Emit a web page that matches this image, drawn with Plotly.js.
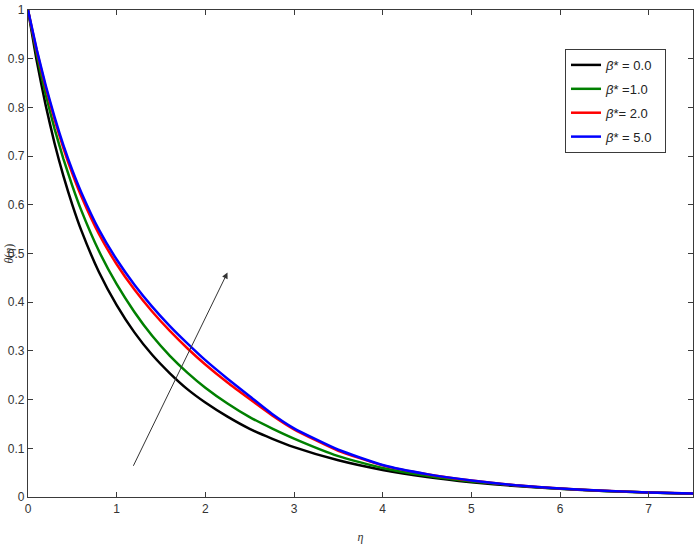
<!DOCTYPE html>
<html>
<head>
<meta charset="utf-8">
<script src="https://cdn.plot.ly/plotly-3.0.1.min.js"></script>
<style>
  html, body { margin: 0; padding: 0; background: #fff; }
  #chart { width: 699px; height: 549px; }
</style>
</head>
<body>
<div id="chart"></div>
<script>
  // eta grid and theta(eta)
  const eta = [0, 0.1, 0.2, 0.3, 0.4, 0.5, 0.6, 0.8, 1.0, 1.2, 1.4, 1.6, 1.8, 2.0, 2.25, 2.5, 2.75, 3.0, 3.5, 4.0, 4.5, 5.0, 5.5, 6.0, 6.5, 7.0, 7.5];
  const theta0 = [1, 0.894, 0.804, 0.726, 0.659, 0.600, 0.548, 0.462, 0.394, 0.338, 0.292, 0.254, 0.221, 0.194, 0.165, 0.140, 0.120, 0.1025, 0.0754, 0.0556, 0.0411, 0.0304, 0.0225, 0.0167, 0.0123, 0.0091, 0.0068];
  const theta1 = [1, 0.907, 0.826, 0.756, 0.694, 0.639, 0.589, 0.505, 0.437, 0.380, 0.331, 0.290, 0.255, 0.2245, 0.192, 0.164, 0.141, 0.120, 0.084, 0.0595, 0.0435, 0.032, 0.0235, 0.017, 0.0125, 0.0092, 0.0069];
  const theta2 = [1, 0.915, 0.841, 0.775, 0.716, 0.664, 0.618, 0.540, 0.478, 0.426, 0.381, 0.341, 0.305, 0.272, 0.235, 0.201, 0.168, 0.139, 0.095, 0.065, 0.0468, 0.0338, 0.024, 0.0172, 0.0128, 0.0094, 0.007];
  const theta5 = [1, 0.918, 0.845, 0.780, 0.722, 0.671, 0.626, 0.549, 0.4876, 0.436, 0.391, 0.351, 0.315, 0.281, 0.243, 0.207, 0.171, 0.141, 0.097, 0.0658, 0.047, 0.034, 0.0241, 0.0172, 0.0128, 0.0094, 0.007];

  const seriesNames = ["<i>β</i>* = 0.0", "<i>β</i>* =1.0", "<i>β</i>*= 2.0", "<i>β</i>* = 5.0"];
  const seriesColors = ["#000000", "#008000", "#ff0000", "#0000ff"];
  const seriesY = [theta0, theta1, theta2, theta5];

  const xTicks = [0, 1, 2, 3, 4, 5, 6, 7];
  const yTicks = [0, 0.1, 0.2, 0.3, 0.4, 0.5, 0.6, 0.7, 0.8, 0.9, 1];

  // arrow showing increasing beta*
  const arrowTail = [1.18, 0.061];
  const arrowHead = [2.25, 0.461];

  const traces = seriesY.map((y, i) => ({
    x: eta, y: y, type: "scatter", mode: "lines",
    name: seriesNames[i] + "\u00a0\u00a0", legendgroup: "g" + i,
    line: { color: seriesColors[i], width: 2.5, shape: "spline", smoothing: 0.5 }
  }));

  const axisBase = {
    showline: true, linecolor: "#3a3a3a", linewidth: 1.2, mirror: "ticks",
    ticks: "inside", ticklen: 5, tickcolor: "#3a3a3a", tickwidth: 1,
    showgrid: false, zeroline: false,
    tickfont: { family: "Liberation Sans Narrow, Liberation Sans, Arial, sans-serif", size: 12, color: "#333" }
  };

  const layout = {
    width: 699, height: 549,
    paper_bgcolor: "#fff", plot_bgcolor: "#fff",
    margin: { l: 28, r: 6, t: 10, b: 52 },
    showlegend: true,
    xaxis: Object.assign({}, axisBase, {
      range: [0, 7.5], tickvals: xTicks, ticktext: xTicks.map(String),
      title: { text: "<i>η</i>", font: { family: "Liberation Serif, serif", size: 12, color: "#333" }, standoff: 18 }
    }),
    yaxis: Object.assign({}, axisBase, {
      range: [0, 1], tickvals: yTicks, ticktext: yTicks.map(String)
    }),
    legend: {
      x: 0.8075, y: 0.92, xanchor: "left", yanchor: "top",
      bgcolor: "#fff", bordercolor: "#3a3a3a", borderwidth: 1,
      tracegroupgap: 4, itemwidth: 30,
      font: { family: "Liberation Sans Narrow, Liberation Sans, Arial, sans-serif", size: 13, color: "#222" }
    },
    annotations: [
      {
        xref: "x", yref: "y", axref: "x", ayref: "y",
        x: arrowHead[0], y: arrowHead[1], ax: arrowTail[0], ay: arrowTail[1],
        text: "", showarrow: true, arrowhead: 2, arrowsize: 1.2, arrowwidth: 1, arrowcolor: "#333"
      },
      {
        xref: "paper", yref: "paper", x: -0.03, y: 0.5, xanchor: "center", yanchor: "middle",
        text: "<i>θ</i>(<i>η</i>)", textangle: -90, showarrow: false,
        font: { family: "Liberation Serif, serif", size: 12, color: "#333" }
      }
    ]
  };

  Plotly.newPlot("chart", traces, layout, { displayModeBar: false, staticPlot: true });
</script>
</body>
</html>
